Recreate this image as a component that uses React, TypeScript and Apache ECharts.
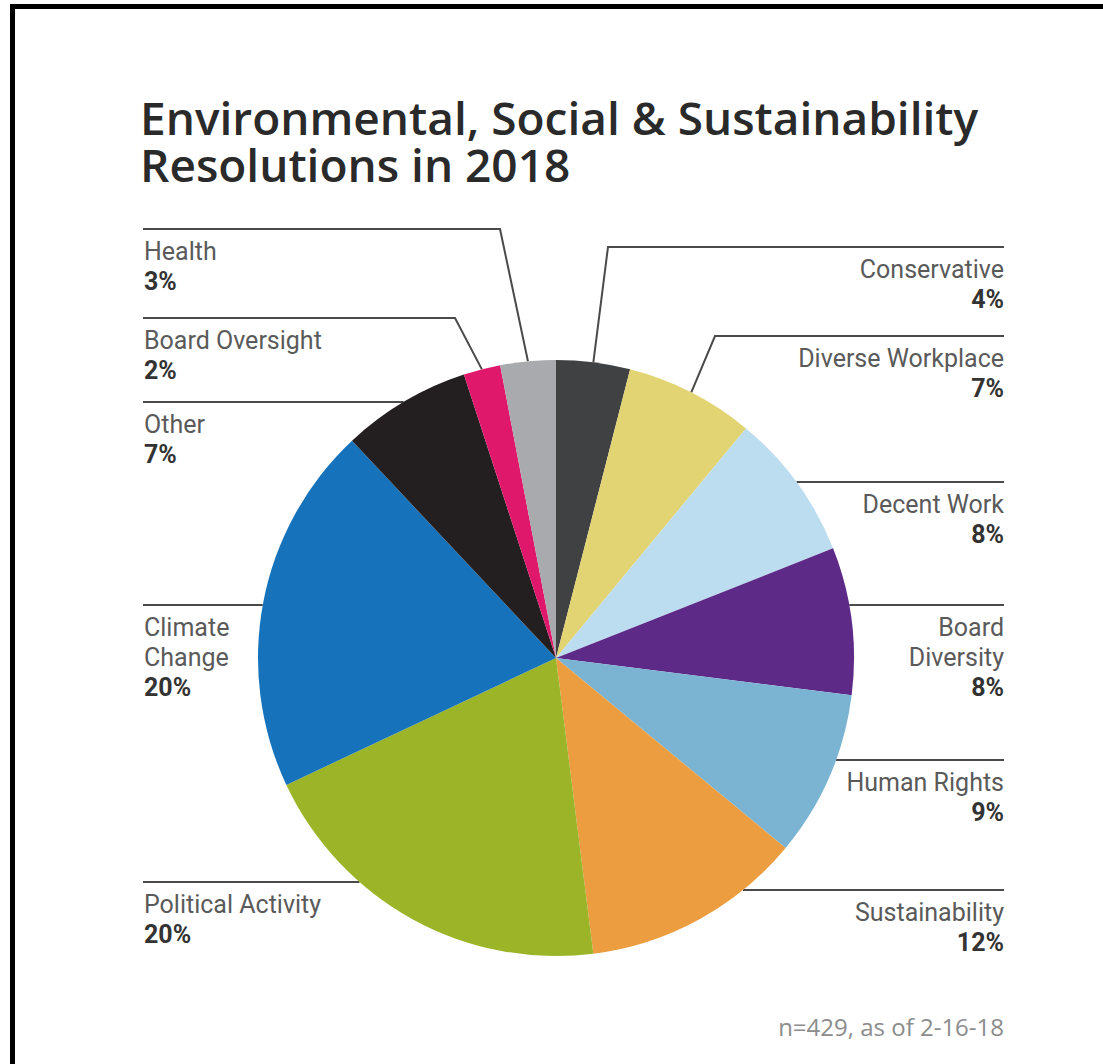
import React, { useEffect, useRef } from 'react';
import * as echarts from 'echarts';

const categories = [
  'Conservative',
  'Diverse Workplace',
  'Decent Work',
  'Board Diversity',
  'Human Rights',
  'Sustainability',
  'Political Activity',
  'Climate Change',
  'Other',
  'Board Oversight',
  'Health',
];
const labelNames = [
  'Conservative',
  'Diverse Workplace',
  'Decent Work',
  'Board\nDiversity',
  'Human Rights',
  'Sustainability',
  'Political Activity',
  'Climate\nChange',
  'Other',
  'Board Oversight',
  'Health',
];
const shares = [4, 7, 8, 8, 9, 12, 20, 20, 7, 2, 3];
const sliceColors = [
  '#404143',
  '#e3d473',
  '#bcdcf0',
  '#5e2a87',
  '#7bb4d3',
  '#eb9d3f',
  '#9bb428',
  '#1672bb',
  '#231f20',
  '#e0186c',
  '#a8aaad',
];
const titleLines = ['Environmental, Social & Sustainability', 'Resolutions in 2018'];
const footnote = 'n=429, as of 2-16-18';

// layout (positions only)
const CX = 556;
const CY = 658;
const R = 298;
const LEFT_X = 144;
const RIGHT_X = 1004;
const labelSpots: Record<string, { side: 'left' | 'right'; lineY: number; bendX?: number }> = {
  'Conservative': { side: 'right', lineY: 247, bendX: 608 },
  'Diverse Workplace': { side: 'right', lineY: 336, bendX: 715 },
  'Decent Work': { side: 'right', lineY: 482 },
  'Board Diversity': { side: 'right', lineY: 605 },
  'Human Rights': { side: 'right', lineY: 760 },
  'Sustainability': { side: 'right', lineY: 890 },
  'Political Activity': { side: 'left', lineY: 882 },
  'Climate Change': { side: 'left', lineY: 605 },
  'Other': { side: 'left', lineY: 402 },
  'Board Oversight': { side: 'left', lineY: 318, bendX: 455 },
  'Health': { side: 'left', lineY: 229, bendX: 500 },
};

const LABEL_FONT = "Roboto, 'Liberation Sans', sans-serif";
const TITLE_FONT = "'Open Sans', sans-serif";

function midEdgePoint(i: number): [number, number] {
  const total = shares.reduce((a, b) => a + b, 0);
  let cum = 0;
  for (let k = 0; k < i; k++) cum += shares[k];
  const a = ((cum + shares[i] / 2) / total) * Math.PI * 2;
  return [CX + R * Math.sin(a), CY - R * Math.cos(a)];
}

export default function App() {
  const ref = useRef<HTMLDivElement>(null);
  useEffect(() => {
    document.body.style.margin = '0';
    if (!ref.current) return;
    const chart = echarts.init(ref.current, undefined, { renderer: 'svg' });
    const titleStyle = {
      fontFamily: TITLE_FONT,
      fontSize: 46,
      lineHeight: 47,
      fontWeight: 600,
      color: '#2a2a2a',
    };
    chart.setOption({
      animation: false,
      backgroundColor: '#ffffff',
      title: [
        { text: titleLines[0], left: 140, top: 93, padding: 0, textStyle: titleStyle },
        { text: titleLines[1], left: 140, top: 140, padding: 0, textStyle: titleStyle },
      ],
      graphic: [
        { type: 'rect', shape: { x: 10, y: 4, width: 1093, height: 5 }, style: { fill: '#000' } },
        { type: 'rect', shape: { x: 10, y: 4, width: 5, height: 1060 }, style: { fill: '#000' } },
        {
          type: 'text',
          x: 1004,
          y: 1026,
          style: {
            text: footnote,
            textAlign: 'right',
            textVerticalAlign: 'middle',
            fontFamily: TITLE_FONT,
            fontSize: 24,
            fill: '#8c8c8c',
          },
        },
      ],
      series: [
        {
          type: 'pie',
          center: [CX, CY],
          radius: [0, R],
          startAngle: 90,
          clockwise: true,
          avoidLabelOverlap: false,
          data: categories.map((c, i) => ({
            name: c,
            value: shares[i],
            itemStyle: { color: sliceColors[i] },
          })),
          itemStyle: { borderWidth: 0 },
          emphasis: { disabled: true },
          label: {
            show: true,
            position: 'outside',
            formatter: (p: any) => {
              const nm = labelNames[p.dataIndex]
                .split('\n')
                .map((t) => `{n|${t}}`)
                .join('\n');
              return `${nm}\n{p|${p.value}%}`;
            },
            rich: {
              n: { fontFamily: LABEL_FONT, fontSize: 25, lineHeight: 30, color: '#5a5a5a' },
              p: { fontFamily: LABEL_FONT, fontSize: 25, lineHeight: 30, color: '#333333', fontWeight: 'bold' },
            },
          },
          labelLine: {
            show: true,
            length: 10,
            length2: 10,
            lineStyle: { color: '#4a4a4a', width: 2 },
          },
          labelLayout: (params: any) => {
            const i = params.dataIndex;
            const s = labelSpots[categories[i]];
            const isLeft = s.side === 'left';
            const endX = isLeft ? LEFT_X - 1 : RIGHT_X;
            let pts: number[][];
            if (s.bendX != null) {
              pts = [midEdgePoint(i), [s.bendX, s.lineY], [endX, s.lineY]];
            } else {
              const dy = s.lineY - CY;
              const dx = Math.sqrt(R * R - dy * dy);
              const ex = isLeft ? CX - dx : CX + dx;
              pts = [[ex, s.lineY], [ex, s.lineY], [endX, s.lineY]];
            }
            return {
              x: isLeft ? LEFT_X : RIGHT_X,
              y: s.lineY + 7,
              align: isLeft ? 'left' : 'right',
              verticalAlign: 'top',
              labelLinePoints: pts,
            };
          },
        },
      ],
    });
    return () => chart.dispose();
  }, []);
  return <div ref={ref} style={{ width: 1103, height: 1064 }} />;
}
